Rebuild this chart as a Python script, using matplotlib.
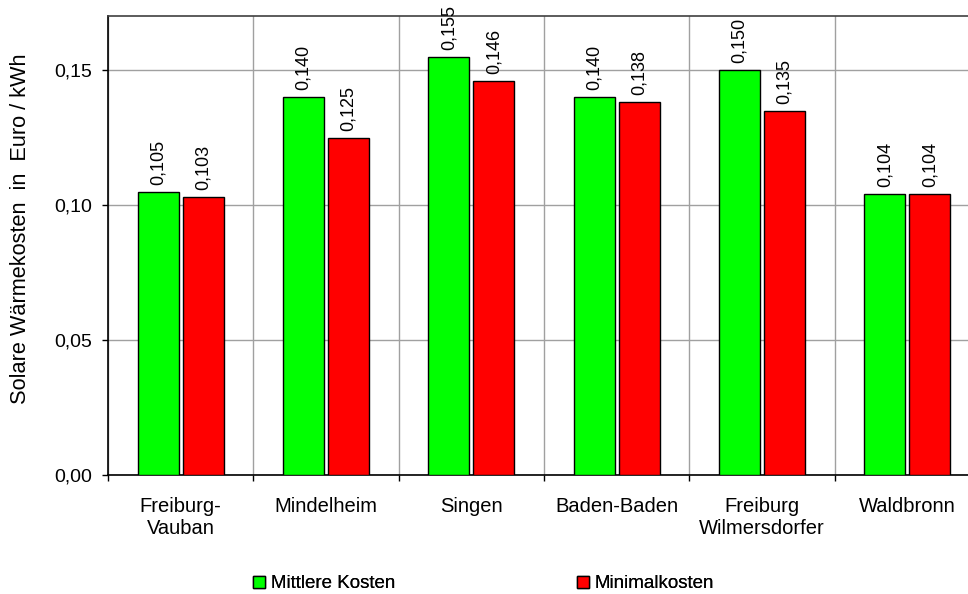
import matplotlib
matplotlib.use("Agg")
import matplotlib.pyplot as plt
import numpy as np
from matplotlib.ticker import FuncFormatter, FixedLocator

plt.rcParams['font.family'] = ['Liberation Sans', 'DejaVu Sans']

# Data
standorte = ["Freiburg-\nVauban", "Mindelheim", "Singen", "Baden-Baden",
             "Freiburg\nWilmersdorfer", "Waldbronn"]
mittlere_kosten = [0.105, 0.140, 0.155, 0.140, 0.150, 0.104]
minimalkosten = [0.103, 0.125, 0.146, 0.138, 0.135, 0.104]
serien = ["Mittlere Kosten", "Minimalkosten"]
y_ticks = [0.00, 0.05, 0.10, 0.15]

def de(v, nd):
    return f"{v:.{nd}f}".replace(".", ",")

fig = plt.figure(figsize=(9.68, 5.94), dpi=100)
ax = fig.add_axes([108 / 968, (594 - 475) / 594, 872 / 968, 459 / 594])

x = np.arange(len(standorte))
w = 0.282
off = 0.155
b1 = ax.bar(x - off, mittlere_kosten, w, color="#00FF00", edgecolor="black",
            linewidth=1.0, label=serien[0], zorder=3)
b2 = ax.bar(x + off, minimalkosten, w, color="#FF0000", edgecolor="black",
            linewidth=1.0, label=serien[1], zorder=3)

for bars, vals in ((b1, mittlere_kosten), (b2, minimalkosten)):
    for rect, v in zip(bars, vals):
        ax.annotate(de(v, 3), (rect.get_x() + rect.get_width() / 2, v),
                    xytext=(0, 5), textcoords="offset points",
                    rotation=90, ha="center", va="bottom", fontsize=13,
                    color="black", annotation_clip=False)

ax.set_xlim(-0.5, len(standorte) - 0.5)
ax.set_ylim(0, 0.17)

# category boundaries carry the x ticks and vertical grid lines
bounds = np.arange(len(standorte) + 1) - 0.5
ax.xaxis.set_major_locator(FixedLocator(bounds))
ax.xaxis.set_major_formatter(FuncFormatter(lambda v, p: ""))
ax.xaxis.set_minor_locator(FixedLocator(x))
ax.set_xticklabels(standorte, minor=True, fontsize=14.5)
ax.tick_params(axis="x", which="minor", length=0, pad=16)
ax.tick_params(axis="x", which="major", length=4.5, width=1, direction="out")

ax.set_yticks(y_ticks)
ax.yaxis.set_major_formatter(FuncFormatter(lambda v, p: de(v, 2)))
ax.tick_params(axis="y", length=4.5, width=1, direction="out", labelsize=14, pad=7)

ax.grid(True, axis="both", which="major", color="#a0a0a0", linewidth=1.0, zorder=0)
ax.set_axisbelow(True)

for s in ("left", "bottom"):
    ax.spines[s].set_color("black")
    ax.spines[s].set_linewidth(1.2)
ax.spines["top"].set_color("#404040")
ax.spines["top"].set_linewidth(1.2)
ax.spines["right"].set_visible(False)

fig.text(21 / 968, 1 - 228.5 / 594, "Solare Wärmekosten  in  Euro / kWh",
         rotation=90, ha="center", va="center", fontsize=15.7)

# legend entries placed separately along the bottom
for handle, lab, xpos in ((b1, serien[0], 253 / 968), (b2, serien[1], 577 / 968)):
    leg = fig.legend([handle], [lab], loc="center left",
                     bbox_to_anchor=(xpos, 1 - 584 / 594), frameon=False,
                     fontsize=13.5, handlelength=0.65, handleheight=0.65,
                     handletextpad=0.3, borderpad=0, borderaxespad=0)
    fig.add_artist(leg)

fig.savefig("out.png", dpi=100)
